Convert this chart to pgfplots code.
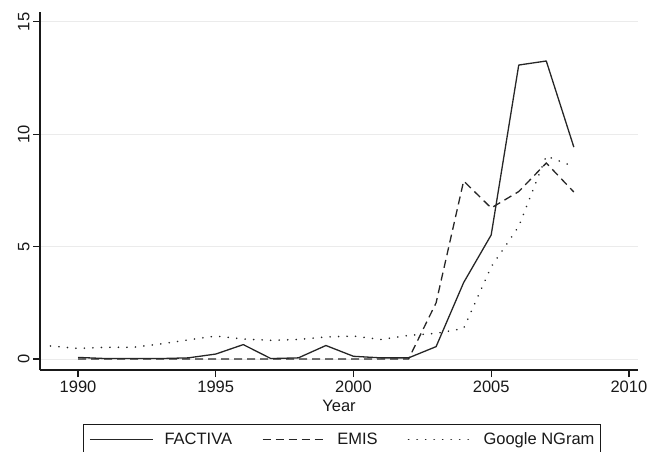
\documentclass[border=0pt]{standalone}
\usepackage{fontspec}
\setmainfont{Liberation Sans}
\usepackage{pgfplots}
\pgfplotsset{compat=1.18}
\begin{document}
\begin{tikzpicture}[x=1pt,y=1pt]
\useasboundingbox (0,0) rectangle (647,451);
\begin{axis}[
  at={(40pt,81pt)}, anchor=south west,
  scale only axis, width=598pt, height=358pt,
  xmin=1988.62, xmax=2010.33, ymin=-0.49, ymax=15.44,
  axis x line*=bottom, axis y line*=left,
  axis line style={line width=1.2pt, black!90},
  tick align=outside, major tick length=7pt,
  tick style={line width=1.2pt, black!90},
  xtick={1990,1995,2000,2005,2010},
  ytick={0,5,10,15},
  x tick label style={/pgf/number format/1000 sep={}},
  /pgf/number format/assume math mode=true,
  tick label style={font=\fontsize{16.5}{19}\selectfont, black!90},
  yticklabel style={rotate=90, anchor=south},
  ymajorgrids, grid style={black!8, line width=0.8pt},
  xlabel={Year},
  every axis x label/.style={at={(axis description cs:0.5,0)}, anchor=base, yshift=-41pt, font=\fontsize{16.5}{19}\selectfont, black!90},
  legend columns=3,
  legend image code/.code={\draw[#1] (0pt,0pt) -- (63pt,0pt);},
  legend style={at={(axis description cs:0,0)}, xshift=42.7pt, yshift=-54.3pt, anchor=north west,
    draw=black!90, line width=1.1pt, inner xsep=6pt, inner ysep=8pt,
    font=\fontsize{16.5}{19}\selectfont, text=black!90,
    nodes={inner sep=0pt},
    /tikz/every odd column/.append style={column sep=11pt},
    /tikz/every even column/.append style={column sep=30pt}},
]
\addplot[black!85, line width=1.3pt, line join=round] coordinates {
(1990,0.07)(1991,0.02)(1992,0.02)(1993,0.02)(1994,0.05)(1995,0.22)(1996,0.64)(1997,0.02)(1998,0.05)(1999,0.6)(2000,0.12)(2001,0.05)(2002,0.05)(2003,0.55)(2004,3.4)(2005,5.52)(2006,13.08)(2007,13.26)(2008,9.43)};
\addlegendentry{FACTIVA}
\addplot[black!85, line width=1.3pt, dash pattern=on 8pt off 5pt] coordinates {
(1990,0)(1991,0)(1992,0)(1993,0)(1994,0)(1995,0)(1996,0)(1997,0)(1998,0)(1999,0)(2000,0)(2001,0)(2002,0)(2003,2.5)(2004,7.92)(2005,6.72)(2006,7.45)(2007,8.72)(2008,7.43)};
\addlegendentry{EMIS}
\addplot[black!85, line width=1.8pt, line cap=round, dash pattern=on 0.01pt off 8.5pt] coordinates {
(1989,0.58)(1990,0.47)(1991,0.52)(1992,0.52)(1993,0.67)(1994,0.85)(1995,1.02)(1996,0.89)(1997,0.83)(1998,0.87)(1999,0.98)(2000,1.02)(2001,0.87)(2002,1.05)(2003,1.14)(2004,1.36)(2005,4.1)(2006,5.9)(2007,9.03)(2008,8.56)};
\addlegendentry{Google NGram}
\end{axis}
\end{tikzpicture}
\end{document}
